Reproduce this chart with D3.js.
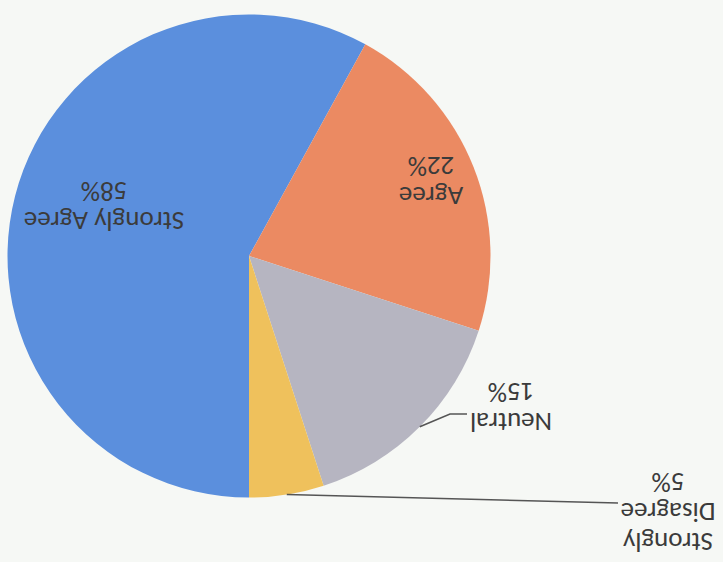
<!DOCTYPE html>
<html>
<head>
<meta charset="utf-8">
<script src="https://cdn.jsdelivr.net/npm/d3@7"></script>
<style>
  html, body { margin: 0; padding: 0; background: #f6f8f5; }
  svg { display: block; }
  text { font-family: Carlito, Lato, "Liberation Sans", sans-serif; }
</style>
</head>
<body>
<svg id="chart" width="723" height="562"></svg>
<script>
// Survey responses (percent of respondents)
const categories = ["Strongly Agree", "Agree", "Neutral", "Strongly Disagree"];
const percents = [58, 22, 15, 5];
const sliceColors = ["#5b8fdd", "#eb8a62", "#b6b5c1", "#efc15c"];

// Label placement relative to the pie centre: first-line baseline offset,
// whether the category name wraps onto two lines, and optional leader-line bends.
const labelLayout = [
  { dx: 145, dy: 44, wrap: false, leader: null },
  { dx: -182, dy: 69, wrap: false, leader: null },
  { dx: -262, dy: -157, wrap: false, leader: [[-201, -158], [-218, -158]] },
  { dx: -419, dy: -277, wrap: true, leader: [[-369, -247]] }
];

const W = 723, H = 562;
const cx = 474, cy = 306, radius = 241.5;
const fontSize = 27, lineGap = 30;

const svg = d3.select("#chart");
svg.append("rect").attr("width", W).attr("height", H).attr("fill", "#f6f8f5");

// The printed page is turned upside down, so the whole chart is rotated 180°.
const page = svg.append("g").attr("transform", `rotate(180 ${W / 2} ${H / 2})`);
const g = page.append("g").attr("transform", `translate(${cx},${cy})`);

const rows = categories.map((c, i) => ({ name: c, value: percents[i], color: sliceColors[i], layout: labelLayout[i] }));

const pie = d3.pie().sort(null).value(d => d.value).startAngle(0).endAngle(2 * Math.PI);
const arcs = pie(rows);
const arc = d3.arc().innerRadius(0).outerRadius(radius);
const rimArc = d3.arc().innerRadius(radius).outerRadius(radius);

g.selectAll("path.slice")
  .data(arcs)
  .join("path")
  .attr("class", "slice")
  .attr("d", arc)
  .attr("fill", d => d.data.color);

// Leader lines for labels placed outside the pie
arcs.filter(d => d.data.layout.leader).forEach(d => {
  const start = rimArc.centroid(d);
  const pts = [start, ...d.data.layout.leader];
  g.append("path")
    .attr("d", d3.line()(pts))
    .attr("fill", "none")
    .attr("stroke", "#555555")
    .attr("stroke-width", 1.6);
});

// Data labels: category name and percentage
const labels = g.selectAll("text.lbl")
  .data(arcs)
  .join("text")
  .attr("class", "lbl")
  .attr("text-anchor", "middle")
  .attr("fill", "#3b3b3b")
  .style("font-size", fontSize + "px")
  .attr("transform", d => `translate(${d.data.layout.dx},${d.data.layout.dy})`);

labels.each(function (d) {
  const lines = (d.data.layout.wrap ? d.data.name.split(" ") : [d.data.name]).concat(d.data.value + "%");
  d3.select(this).selectAll("tspan")
    .data(lines)
    .join("tspan")
    .attr("x", 0)
    .attr("y", (l, i) => i * lineGap)
    .text(l => l);
});
</script>
</body>
</html>
